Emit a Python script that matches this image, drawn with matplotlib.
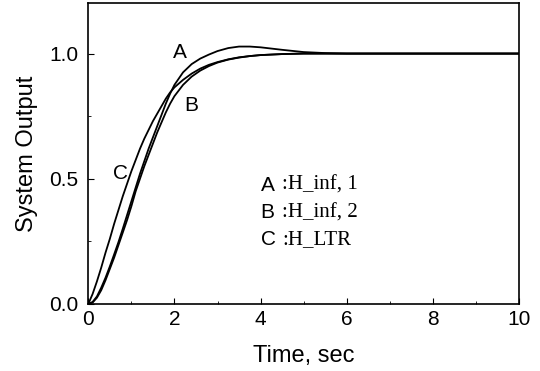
import numpy as np
import matplotlib.pyplot as plt
from matplotlib.ticker import MultipleLocator

# step responses
t = [0, 0.1, 0.2, 0.3, 0.4, 0.5, 0.6, 0.7, 0.8, 0.9, 1.0, 1.1, 1.2, 1.3, 1.4, 1.5,
     1.6, 1.7, 1.8, 1.9, 2.0, 2.2, 2.4, 2.6, 2.8, 3.0, 3.25, 3.5, 3.75, 4.0, 4.5,
     5.0, 5.5, 6.0, 7.0, 8.0, 9.0, 10.0]
y_a = [0, 0.008, 0.03, 0.065, 0.105, 0.15, 0.198, 0.247, 0.30, 0.355, 0.41, 0.465,
       0.52, 0.57, 0.62, 0.665, 0.71, 0.755, 0.80, 0.84, 0.875, 0.925, 0.958, 0.98,
       0.996, 1.01, 1.022, 1.028, 1.028, 1.025, 1.015, 1.006, 1.002, 1.0, 1.0, 1.0, 1.0, 1.0]
y_b = [0, 0.006, 0.025, 0.055, 0.095, 0.14, 0.185, 0.235, 0.285, 0.335, 0.39, 0.45,
       0.50, 0.55, 0.595, 0.64, 0.685, 0.725, 0.765, 0.80, 0.83, 0.875, 0.908, 0.932,
       0.95, 0.964, 0.976, 0.984, 0.99, 0.994, 0.998, 1.0, 1.0, 1.0, 1.0, 1.0, 1.0, 1.0]
y_c = [0, 0.04, 0.09, 0.145, 0.205, 0.26, 0.32, 0.375, 0.43, 0.48, 0.53, 0.575,
       0.62, 0.66, 0.695, 0.73, 0.76, 0.79, 0.82, 0.845, 0.865, 0.895, 0.92, 0.94,
       0.955, 0.966, 0.977, 0.985, 0.99, 0.994, 0.998, 1.0, 1.0, 1.0, 1.0, 1.0, 1.0, 1.0]

curve_names = ['A', 'B', 'C']
curve_desc = ['H_inf, 1', 'H_inf, 2', 'H_LTR']

plt.rcParams['font.family'] = ['Liberation Sans', 'DejaVu Sans']

fig = plt.figure(figsize=(5.4, 3.71), dpi=100)
ax = fig.add_axes([0.1635, 0.1806, 0.7976, 0.81])

for y in (y_a, y_b, y_c):
    ax.plot(t, y, color='black', lw=1.3)

ax.set_xlim(0, 10)
ax.set_ylim(0, 1.2)
ax.xaxis.set_major_locator(MultipleLocator(2))
ax.xaxis.set_minor_locator(MultipleLocator(1))
ax.yaxis.set_major_locator(MultipleLocator(0.5))
ax.yaxis.set_minor_locator(MultipleLocator(0.25))
ax.yaxis.set_major_formatter(plt.FuncFormatter(lambda v, p: f'{v:.1f}'))
ax.tick_params(which='both', direction='in', labelsize=15)
ax.tick_params(which='major', length=4)
ax.tick_params(which='minor', length=2.5)
ax.tick_params(axis='y', pad=7)
ax.tick_params(axis='x', pad=4)
for s in ax.spines.values():
    s.set_linewidth(1.2)

ax.set_xlabel('Time, sec', fontsize=17, labelpad=12)
ax.set_ylabel('System Output', fontsize=17, labelpad=8)

# curve letters
ax.text(2.12, 1.005, 'A', fontsize=15, ha='center', va='center')
ax.text(2.39, 0.793, 'B', fontsize=15, ha='center', va='center')
ax.text(0.74, 0.52, 'C', fontsize=15, ha='center', va='center')

# key
for i, (n, d) in enumerate(zip(curve_names, curve_desc)):
    yy = 0.474 - i * 0.109
    ax.text(4.0, yy, n, fontsize=15, ha='left', va='center')
    ax.text(4.5, yy, ':' + d, fontsize=15, ha='left', va='center', family='Liberation Serif')

fig.savefig('out.png', dpi=100)
